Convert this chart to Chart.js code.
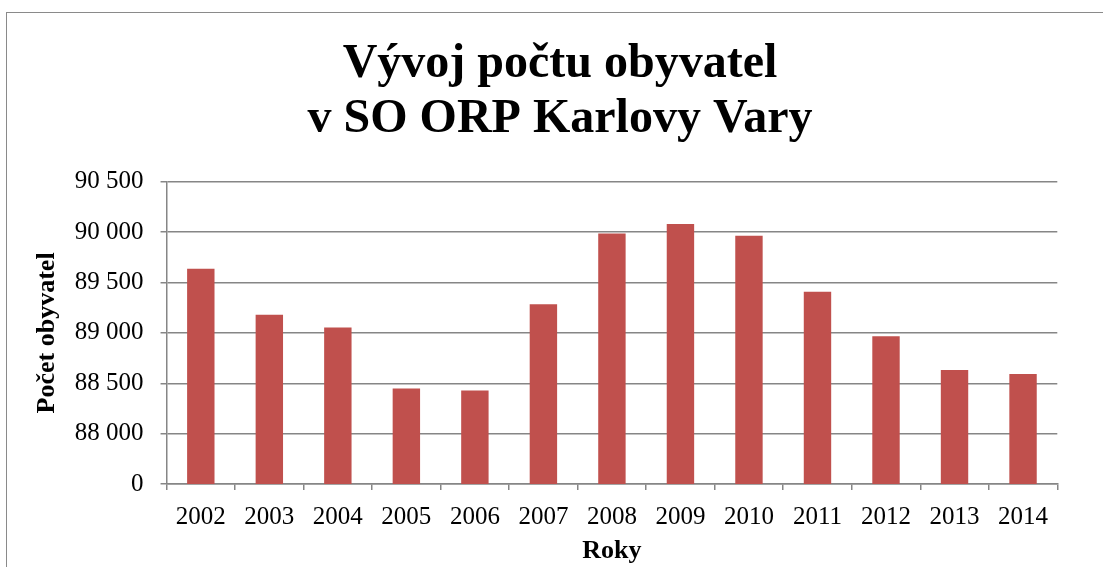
<!DOCTYPE html>
<html>
<head>
<meta charset="utf-8">
<script src="https://cdn.jsdelivr.net/npm/chart.js@4.4.0/dist/chart.umd.min.js"></script>
<style>
html,body{margin:0;padding:0;background:#fff;overflow:hidden;}
#wrap{position:absolute;left:0;top:0;width:1103px;height:567px;}
#frame{position:absolute;left:6px;top:12px;width:1200px;height:700px;border-left:1.5px solid #8a8a8a;border-top:1.5px solid #8a8a8a;box-sizing:border-box;pointer-events:none;}
canvas{position:absolute;left:0;top:0;}
</style>
</head>
<body>
<div id="wrap">
<canvas id="c" width="1103" height="567"></canvas>
<div id="frame"></div>
</div>
<script>
const categories = ['2002','2003','2004','2005','2006','2007','2008','2009','2010','2011','2012','2013','2014'];
const population = [89637, 89179, 89054, 88449, 88429, 89283, 89986, 90080, 89963, 89408, 88967, 88631, 88592];
const yTickValues = [87500, 88000, 88500, 89000, 89500, 90000, 90500];
const yTickLabels = ['0', '88 000', '88 500', '89 000', '89 500', '90 000', '90 500'];
const titleLines = ['Vývoj počtu obyvatel', 'v SO ORP Karlovy Vary'];
const yTitle = 'Počet obyvatel';
const xTitle = 'Roky';

const gridColor = '#868686';
const serif = "'Liberation Serif', 'Times New Roman', serif";

new Chart(document.getElementById('c'), {
  type: 'bar',
  data: {
    labels: categories,
    datasets: [{
      data: population,
      backgroundColor: '#c0504d',
      borderWidth: 0,
      barPercentage: 0.4,
      categoryPercentage: 1.0
    }]
  },
  options: {
    responsive: false,
    animation: false,
    layout: { padding: { left: 62.7, right: 45.7, top: 0, bottom: 0 } },
    plugins: {
      legend: { display: false },
      tooltip: { enabled: false },
      title: {
        display: true,
        text: titleLines,
        color: '#000',
        font: { family: serif, size: 48, weight: 'bold', lineHeight: 1.1458 },
        padding: { top: 37, bottom: 34.7 }
      }
    },
    scales: {
      x: {
        grid: { display: true, drawOnChartArea: false, drawTicks: true, tickLength: 6, color: gridColor, lineWidth: 1.5 },
        border: { display: true, color: gridColor, width: 1.5 },
        ticks: { color: '#000', font: { family: serif, size: 25 }, padding: 12, maxRotation: 0, autoSkip: false },
        title: { display: true, text: xTitle, color: '#000', font: { family: serif, size: 26, weight: 'bold' }, padding: { top: -8.3, bottom: 0 } }
      },
      y: {
        min: yTickValues[0],
        max: yTickValues[yTickValues.length - 1],
        afterBuildTicks: (scale) => { scale.ticks = yTickValues.map(v => ({ value: v })); },
        grid: { display: true, drawOnChartArea: true, drawTicks: true, tickLength: 6, color: gridColor, lineWidth: 1.5 },
        border: { display: true, color: gridColor, width: 1.5 },
        ticks: {
          color: '#000',
          font: { family: serif, size: 25 },
          padding: 17,
          callback: (value) => { const i = yTickValues.indexOf(value); return i >= 0 ? yTickLabels[i] : ''; }
        },
        title: { display: true, text: yTitle, color: '#000', font: { family: serif, size: 26, weight: 'bold' }, padding: { top: -31.3, bottom: -4.8 } }
      }
    }
  }
});
</script>
</body>
</html>
